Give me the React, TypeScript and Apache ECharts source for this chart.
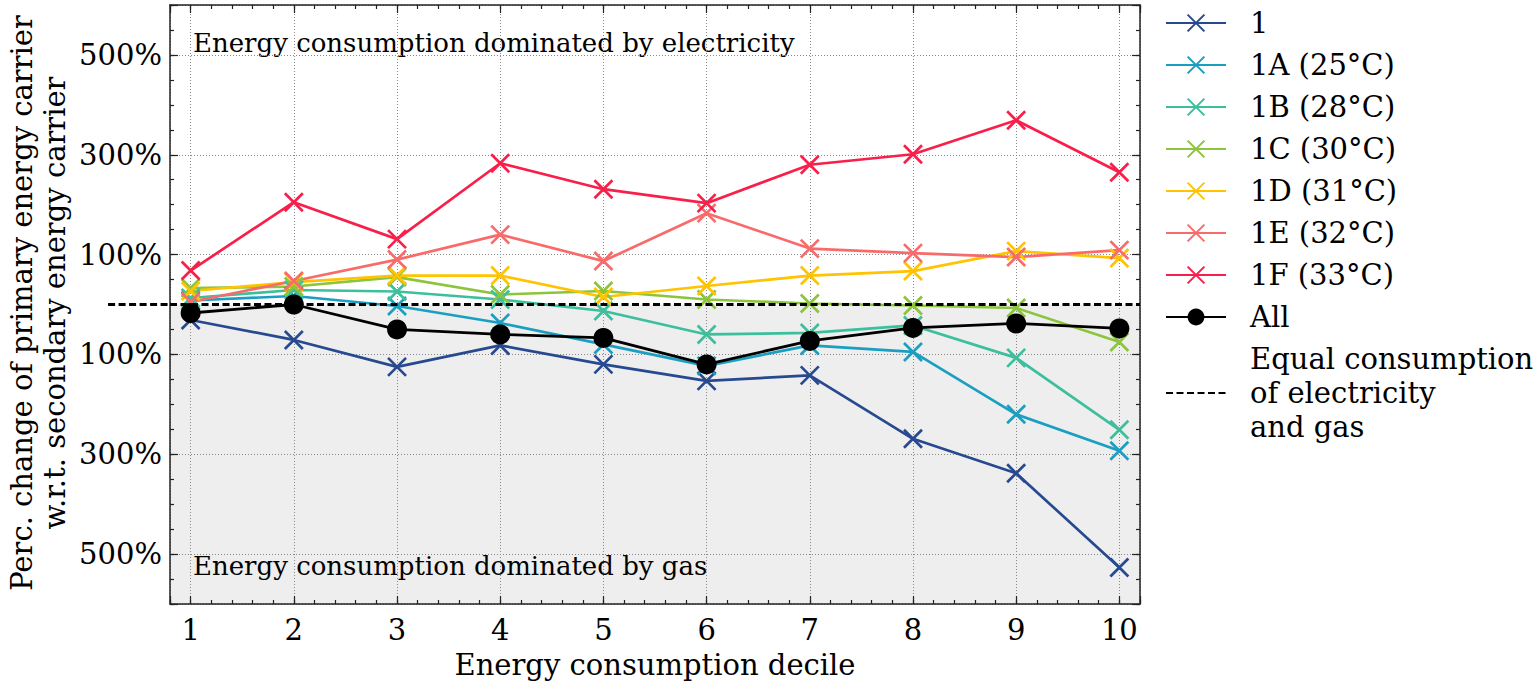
import React, { useEffect, useRef } from "react";
import * as echarts from "echarts";

// ---- data ----
const deciles = [1, 2, 3, 4, 5, 6, 7, 8, 9, 10];
const s1 = [-31, -71, -125, -82, -120, -153, -142, -269, -338, -527];
const s1A = [8, 17, -3, -37, -80, -123, -82, -95, -220, -293];
const s1B = [13, 29, 26, 10, -13, -60, -57, -42, -107, -251];
const s1C = [33, 36, 55, 20, 27, 10, 2, -2, -7, -75];
const s1D = [27, 45, 58, 58, 15, 37, 58, 67, 107, 93];
const s1E = [5, 47, 90, 140, 87, 183, 112, 103, 95, 109];
const s1F = [68, 205, 131, 283, 231, 203, 280, 301, 369, 265];
const sAll = [-17, 0, -50, -60, -67, -120, -73, -47, -38, -48];

const seriesNames = ["1", "1A (25°C)", "1B (28°C)", "1C (30°C)", "1D (31°C)", "1E (32°C)", "1F (33°C)"];
const seriesValues = [s1, s1A, s1B, s1C, s1D, s1E, s1F];
const seriesColors = ["#27498f", "#1a9ec2", "#3cbf9d", "#8cc43c", "#ffc300", "#f96b6b", "#f8204b"];
const allName = "All";
const eqName = "Equal consumption\nof electricity\nand gas";

// axis extents
const X_MIN = 0.8;
const X_MAX = 10.2;
const X_MINOR = 0.2;
const Y_MIN = -600;
const Y_MAX = 600;
const Y_MINOR = 50;
const Y_SHIFT = 500; // display axis: value + 500, so ticks fall on odd hundreds
const eqLineX = [0.2, X_MAX];
const eqLevel = 0;
const shadeX = [X_MIN, X_MAX];

const FONT = "'DejaVu Serif', serif";
const X_PATH = "path://M0,0L10,10M10,0L0,10";
const EQ_DASH = [7, 3.5];

export default function App() {
  const ref = useRef<HTMLDivElement>(null);
  useEffect(() => {
    document.body.style.margin = "0";
    const chart = echarts.init(ref.current!, null, { renderer: "svg" });
    const axisColor = "#222";
    const gridLine = { show: true, lineStyle: { color: "#888", width: 1, type: [1, 2] as any } };

    const xMinor = (pos: string) => ({
      type: "value", position: pos, min: X_MIN, max: X_MAX, interval: X_MINOR,
      axisLine: { show: true, onZero: false, lineStyle: { color: axisColor, width: 1.5 } },
      axisTick: { inside: true, length: 4, lineStyle: { color: axisColor, width: 1.2 } },
      axisLabel: { show: false }, splitLine: { show: false },
    });
    const xMajor = (pos: string, labels: boolean) => ({
      type: "value", position: pos, min: X_MIN, max: X_MAX, splitNumber: 10,
      axisLine: { show: false, onZero: false },
      axisTick: { inside: true, length: 8, lineStyle: { color: axisColor, width: 1.2 } },
      axisLabel: labels
        ? {
            show: true, margin: 11, color: "#000", fontFamily: FONT, fontSize: 29,
            formatter: (v: number) => (Math.abs(v - Math.round(v)) < 1e-6 ? String(Math.round(v)) : ""),
          }
        : { show: false },
      splitLine: labels ? gridLine : { show: false },
      name: labels ? "Energy consumption decile" : "",
      nameLocation: "middle", nameGap: 46,
      nameTextStyle: { color: "#000", fontFamily: FONT, fontSize: 29 },
    });
    const yMinor = (pos: string) => ({
      type: "value", position: pos, min: Y_MIN, max: Y_MAX, interval: Y_MINOR,
      axisLine: { show: true, onZero: false, lineStyle: { color: axisColor, width: 1.5 } },
      axisTick: { inside: true, length: 4, lineStyle: { color: axisColor, width: 1.2 } },
      axisLabel: { show: false }, splitLine: { show: false },
    });
    const yMajor = (pos: string, labels: boolean) => ({
      type: "value", position: pos, min: Y_MIN + Y_SHIFT, max: Y_MAX + Y_SHIFT, splitNumber: 6,
      axisLine: { show: false, onZero: false },
      axisTick: { inside: true, length: 8, lineStyle: { color: axisColor, width: 1.2 } },
      axisLabel: labels
        ? {
            show: true, margin: 8, color: "#000", fontFamily: FONT, fontSize: 29,
            formatter: (a: number) => {
              const r = Math.round(a);
              return r % 200 === 0 ? Math.abs(r - Y_SHIFT) + "%" : "";
            },
          }
        : { show: false },
      splitLine: labels ? gridLine : { show: false },
    });

    const lineSeries: any[] = seriesNames.map((name, k) => ({
      type: "line", name, xAxisIndex: 0, yAxisIndex: 0,
      data: deciles.map((d, i) => [d, seriesValues[k][i]]),
      symbol: X_PATH, symbolSize: 18,
      lineStyle: { color: seriesColors[k], width: 2.7 },
      itemStyle: { color: seriesColors[k], borderColor: seriesColors[k], borderWidth: 2.7 },
      z: 3,
    }));

    const option: any = {
      animation: false,
      textStyle: { fontFamily: FONT },
      grid: { left: 170, right: 395, top: 5, bottom: 84, containLabel: false },
      xAxis: [xMinor("bottom"), xMajor("bottom", true), xMinor("top"), xMajor("top", false)],
      yAxis: [yMinor("left"), yMajor("left", true), yMinor("right"), yMajor("right", false)],
      legend: {
        orient: "vertical", left: 1165, top: 6, padding: 0, itemWidth: 60, itemHeight: 21, itemGap: 8,
        selectedMode: false,
        data: [...seriesNames, allName, { name: eqName, itemStyle: { opacity: 0 } }],
        textStyle: { color: "#000", fontFamily: FONT, fontSize: 29, lineHeight: 34, padding: [0, 0, 0, 19] },
      },
      graphic: [
        {
          id: "ytitle", type: "text", x: 38, y: 303, rotation: Math.PI / 2,
          style: {
            text: "Perc. change of primary energy carrier\nw.r.t. secondary energy carrier",
            fill: "#000", font: `29px ${FONT}`, textAlign: "center", textVerticalAlign: "middle", lineHeight: 33,
          },
        },
        {
          id: "noteTop", type: "text", x: 193, y: 43,
          style: { text: "Energy consumption dominated by electricity", fill: "#000", font: `26px ${FONT}`, textAlign: "left", textVerticalAlign: "middle" },
        },
        {
          id: "noteBottom", type: "text", x: 193, y: 566,
          style: { text: "Energy consumption dominated by gas", fill: "#000", font: `26px ${FONT}`, textAlign: "left", textVerticalAlign: "middle" },
        },
      ],
      series: [
        {
          type: "line", name: "shade", xAxisIndex: 0, yAxisIndex: 0,
          data: shadeX.map((x) => [x, 0]), symbol: "none",
          lineStyle: { width: 0 }, areaStyle: { color: "#eeeeee", opacity: 1, origin: "start" },
          z: -1, silent: true,
        },
        ...lineSeries,
        {
          type: "line", name: eqName, xAxisIndex: 0, yAxisIndex: 0,
          data: [X_MIN, eqLineX[1]].map((x) => [x, eqLevel]), symbol: "none",
          lineStyle: { color: "#000", width: 2.8, type: EQ_DASH },
          itemStyle: { color: "#000" },
          z: 4,
        },
        {
          type: "line", name: allName, xAxisIndex: 0, yAxisIndex: 0,
          data: deciles.map((d, i) => [d, sAll[i]]),
          symbol: "circle", symbolSize: 20,
          lineStyle: { color: "#000", width: 2.8 },
          itemStyle: { color: "#000" },
          z: 5,
        },
      ],
    };
    chart.setOption(option);

    // extension of the equal-consumption line to the left of the plot area
    const p0 = chart.convertToPixel({ xAxisIndex: 0, yAxisIndex: 0 }, [eqLineX[0], eqLevel]) as number[];
    const p1 = chart.convertToPixel({ xAxisIndex: 0, yAxisIndex: 0 }, [X_MIN, eqLevel]) as number[];
    if (p0 && p1) {
      chart.setOption({
        graphic: [
          {
            id: "eqExt", type: "line", z: 4,
            shape: { x1: p0[0], y1: p0[1], x2: p1[0], y2: p1[1] },
            style: { stroke: "#000", lineWidth: 2.8, lineDash: EQ_DASH },
          },
        ],
      });
    }
    return () => chart.dispose();
  }, []);
  return <div ref={ref} style={{ position: "absolute", left: 0, top: 0, width: 1535, height: 688 }} />;
}
